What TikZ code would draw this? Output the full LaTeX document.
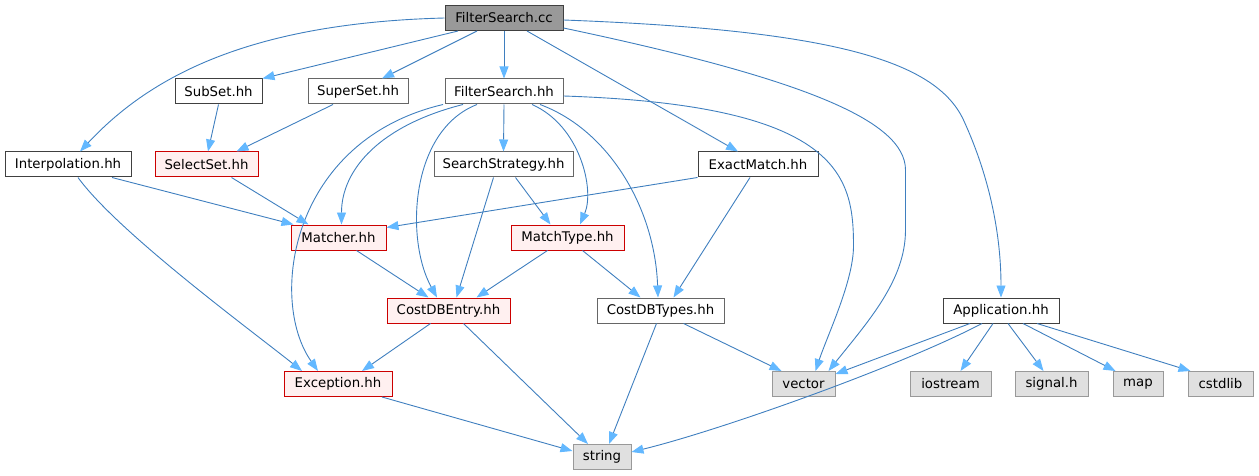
\documentclass[tikz,border=0pt]{standalone}
\usepackage{fontspec}
\setsansfont{DejaVu Sans}
\usepackage{xcolor}
\definecolor{EdgeBlue}{HTML}{3F7FBF}
\definecolor{ArrowBlue}{HTML}{63B8FF}
\definecolor{BorderDark}{HTML}{404040}
\definecolor{BorderMid}{HTML}{666666}
\definecolor{TopFill}{HTML}{999999}
\definecolor{RedLight}{HTML}{FFF0F0}
\definecolor{RedMid}{HTML}{CC0000}
\definecolor{SysFill}{HTML}{E0E0E0}
\definecolor{SysBorder}{HTML}{999999}
\usetikzlibrary{arrows.meta}
\tikzset{
  sn/.style={rectangle, align=center, font=\sffamily\fontsize{13.3}{15}\selectfont,
             minimum width=#1, minimum height=25pt, inner sep=2pt, draw, line width=1pt},
  wn/.style={sn=#1, fill=white,     draw=BorderDark},
  gn/.style={sn=#1, fill=white,     draw=BorderMid},
  rn/.style={sn=#1, fill=RedLight,  draw=RedMid},
  sysn/.style={sn=#1, fill=SysFill, draw=SysBorder},
  topn/.style={sn=#1, fill=TopFill, draw=BorderDark},
  arr/.style={-{Triangle[length=12pt, width=9pt, color=ArrowBlue, fill=ArrowBlue]},
              line width=0.9pt, color=EdgeBlue},
}

\begin{document}
\begin{tikzpicture}[x=1pt, y=-1pt]
  \useasboundingbox (0,0) rectangle (1259,476);

  % Source file
  \node[topn=118pt] (cc) at (504,18) {FilterSearch.cc};

  % Direct includes
  \node[wn=87pt]  (subset)   at (218.5,91.5) {SubSet.hh};
  \node[gn=100pt] (superset) at (358,91.5)   {SuperSet.hh};
  \node[gn=118pt] (fsh)      at (504,91.5)   {FilterSearch.hh};

  % Third row
  \node[wn=126pt] (interp)   at (68,164.5)    {Interpolation.hh};
  \node[rn=103pt] (selset)   at (206.5,164.5) {SelectSet.hh};
  \node[gn=139pt] (strategy) at (503.5,164.5) {SearchStrategy.hh};
  \node[wn=120pt] (exact)    at (758,164.5)   {ExactMatch.hh};

  % Matchers
  \node[rn=95pt]  (matcher) at (338.5,237.5) {Matcher.hh};
  \node[rn=113pt] (mtype)   at (567.5,237.5) {MatchType.hh};

  % Cost DB
  \node[rn=123pt] (entry) at (448.5,310.5) {CostDBEntry.hh};
  \node[gn=127pt] (types) at (660.5,310.5) {CostDBTypes.hh};
  \node[wn=116pt] (app)   at (1001,310.5)  {Application.hh};

  % Exception + system headers
  \node[rn=108pt]  (except)   at (338,384)    {Exception.hh};
  \node[sysn=63pt] (vector)   at (803.5,384)  {vector};
  \node[sysn=81pt] (iostream) at (950.5,384)  {iostream};
  \node[sysn=73pt] (signal)   at (1051.5,384) {signal.h};
  \node[sysn=50pt] (map)      at (1138,384)   {map};
  \node[sysn=65pt] (cstdlib)  at (1220.5,384) {cstdlib};
  \node[sysn=58pt] (string)   at (602,457)    {string};

  % Arrows from FilterSearch.cc
  \draw[arr] (cc.west) .. controls +(-195,5) and +(70,-75) .. ([xshift=12pt]interp.north);
  \draw[arr] ([xshift=-46pt]cc.south) -- (subset.north east);
  \draw[arr] ([xshift=-27pt]cc.south) -- ([xshift=24pt]superset.north);
  \draw[arr] (cc.south) -- (fsh.north);
  \draw[arr] ([xshift=23pt]cc.south) -- ([xshift=-20pt]exact.north);
  \draw[arr] ([yshift=-10pt]cc.east) .. controls +(237,50) and +(0,-50) .. ++(342,142)
    -- ++(0,60) .. controls +(0,50) and +(40,-50) .. ([xshift=25pt]vector.north);
  \draw[arr] ([yshift=-2pt]cc.east) .. controls +(267,10) and +(-28,-60) .. ++(400,100)
    .. controls +(23,50) and +(0,-70) .. (app.north);

  % Arrows from FilterSearch.hh
  \draw[arr] (fsh.south) -- (strategy.north);
  \draw[arr] ([xshift=-61pt]fsh.south) .. controls +(-153,36) and +(-50,-71) .. ([xshift=-20pt]except.north);
  \draw[arr] ([xshift=-41pt]fsh.south) .. controls +(-83,21) and +(0,-55) .. ([xshift=3pt]matcher.north);
  \draw[arr] ([xshift=-27pt]fsh.south) .. controls +(-67,26) and +(-32,-58) .. ([xshift=-11.5pt]entry.north);
  \draw[arr] ([xshift=28pt]fsh.south) .. controls +(48,21) and +(15,-35) .. ([xshift=12.5pt]mtype.north);
  \draw[arr] ([xshift=36pt]fsh.south) .. controls +(70,26) and +(-3,-88) .. ([xshift=-2.5pt]types.north);
  \draw[arr] ([yshift=-4.5pt]fsh.east) .. controls +(277,9) and +(0,-70) .. ++(290,150)
    .. controls +(0,35) and +(12,-36) .. ([xshift=12pt]vector.north);

  % Middle rows
  \draw[arr] (subset.south) -- ([xshift=1.5pt]selset.north);
  \draw[arr] ([xshift=-25pt]superset.south) -- ([xshift=30pt]selset.north);
  \draw[arr] ([xshift=25pt]selset.south) -- ([xshift=-30pt]matcher.north);
  \draw[arr] ([xshift=44pt]interp.south) -- ([xshift=-45pt]matcher.north);
  \draw[arr] ([xshift=10pt]interp.south) .. controls +(40,55) and +(-50,-40) .. ([xshift=-36pt]except.north);
  \draw[arr] ([xshift=-10pt]strategy.south) -- ([xshift=8pt]entry.north);
  \draw[arr] ([xshift=12pt]strategy.south) -- ([xshift=-17pt]mtype.north);
  \draw[arr] (exact.south west) -- ([yshift=-3pt]matcher.north east);
  \draw[arr] ([xshift=-8pt]exact.south) -- ([xshift=13pt]types.north);
  \draw[arr] ([xshift=18pt]matcher.south) -- ([xshift=-20pt]entry.north);
  \draw[arr] ([xshift=-20pt]mtype.south) -- ([xshift=28pt]entry.north);
  \draw[arr] ([xshift=15pt]mtype.south) -- ([xshift=-20pt]types.north);

  % Lower rows
  \draw[arr] ([xshift=-18pt]entry.south) -- ([xshift=24pt]except.north);
  \draw[arr] ([xshift=15pt]entry.south) -- ([xshift=-14pt]string.north);
  \draw[arr] ([xshift=-4pt]types.south) -- ([xshift=7pt]string.north);
  \draw[arr] ([xshift=23pt]types.south) -- ([xshift=-22pt]vector.north);
  \draw[arr] ([xshift=44pt]except.south) -- ([yshift=6pt]string.west);

  % Application.hh
  \draw[arr] ([xshift=-31pt]app.south) -- ([yshift=-3pt]vector.north east);
  \draw[arr] ([xshift=-19pt]app.south) .. controls +(-80,42) and +(90,-22) .. ([yshift=5pt]string.east);
  \draw[arr] ([xshift=-8pt]app.south) -- ([xshift=10pt]iostream.north);
  \draw[arr] ([xshift=7pt]app.south) -- ([xshift=-8pt]signal.north);
  \draw[arr] ([xshift=22pt]app.south) -- ([xshift=3pt]map.north west);
  \draw[arr] ([xshift=36pt]app.south) -- ([xshift=3pt]cstdlib.north west);

\end{tikzpicture}
\end{document}
